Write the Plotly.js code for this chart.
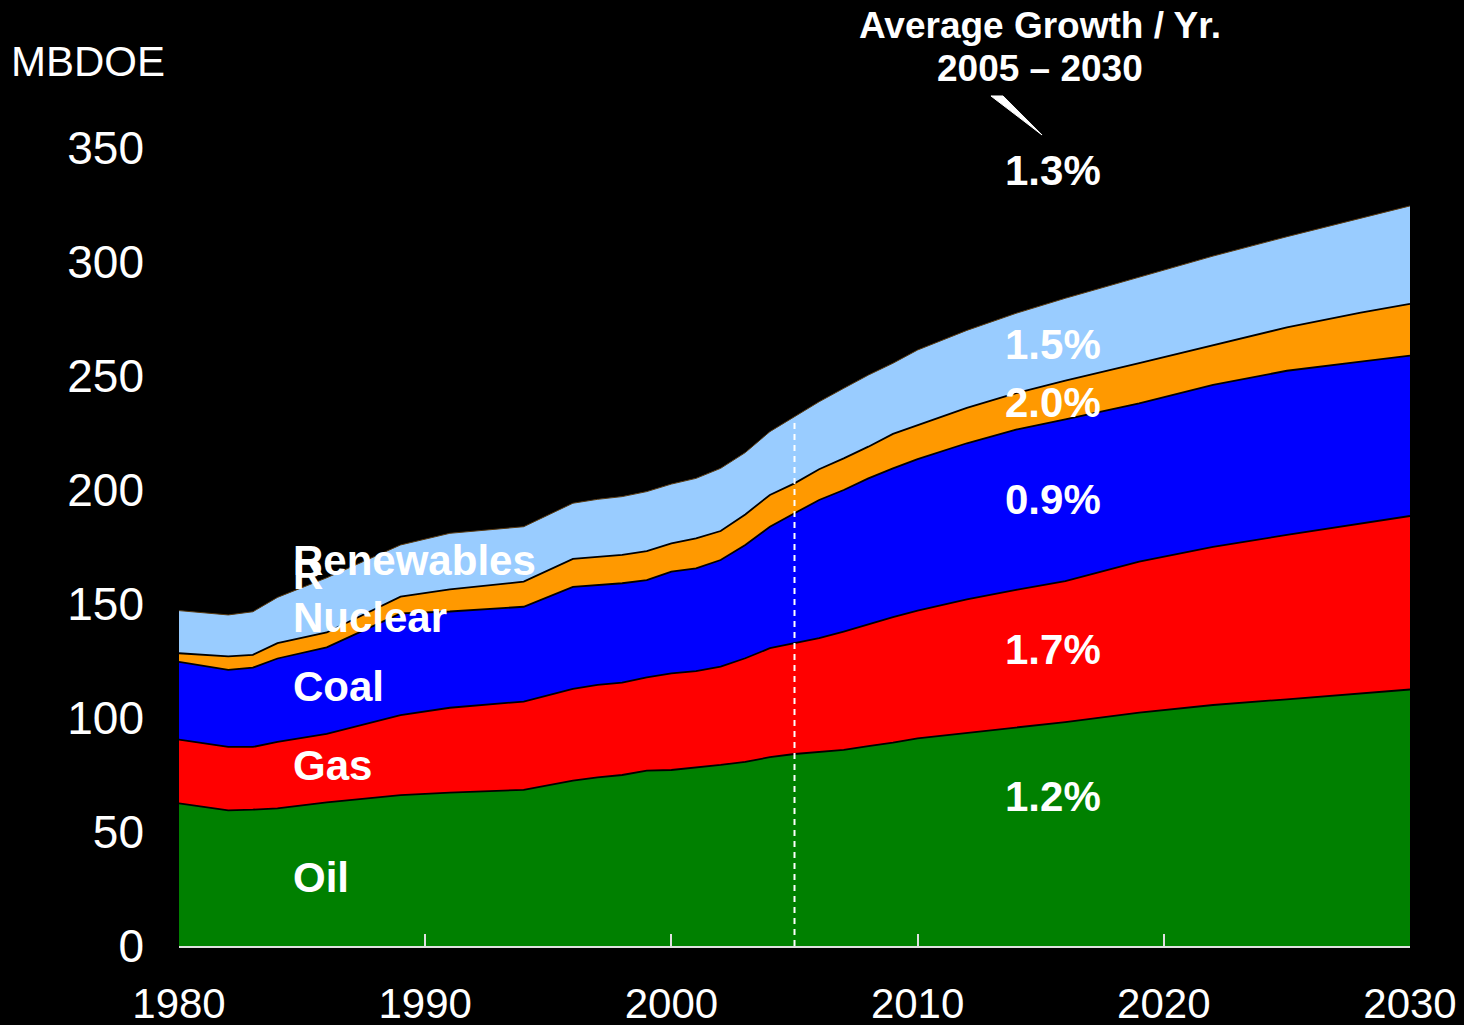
<!DOCTYPE html>
<html>
<head>
<meta charset="utf-8">
<script src="https://cdn.plot.ly/plotly-3.0.1.min.js"></script>
<style>
  html, body { margin: 0; padding: 0; background: #000; }
  #chart { width: 1464px; height: 1025px; }
</style>
</head>
<body>
<div id="chart"></div>
<script>
// Years (history then projection)
const years = [1980, 1982, 1983, 1984, 1986, 1989, 1991, 1994, 1996, 1997, 1998, 1999, 2000,
  2001, 2002, 2003, 2004, 2005, 2006, 2007, 2008, 2009, 2010, 2012, 2014, 2016, 2019, 2022,
  2025, 2028, 2030];

// Energy demand by fuel, MBDOE (each layer's own thickness)
const oil = [62.6, 59.5, 59.8, 60.4, 63.0, 66.2, 67.3, 68.5, 72.5, 74.0, 75.0, 76.9, 77.2,
  78.2, 79.4, 80.8, 82.8, 84.2, 85.0, 86.0, 87.7, 89.2, 91.1, 93.5, 96.0, 98.2, 102.4, 105.7,
  108.2, 110.6, 112.5];
const gas = [27.9, 27.8, 27.5, 29.1, 30.0, 35.1, 37.2, 38.7, 40.3, 40.5, 40.5, 40.9, 42.4,
  42.4, 43.1, 45.4, 47.8, 48.6, 50.0, 51.9, 53.5, 55.0, 56.0, 58.5, 60.2, 61.8, 66.2, 69.4,
  72.1, 74.6, 76.1];
const coal = [34.1, 33.8, 34.8, 36.6, 38.0, 44.6, 42.2, 41.6, 44.7, 43.8, 43.6, 42.7, 44.6,
  45.0, 46.8, 49.7, 53.3, 57.0, 60.6, 62.1, 63.9, 65.3, 66.4, 68.5, 70.3, 71.0, 69.4, 71.0,
  72.0, 71.1, 70.3];
const nuclear = [3.8, 5.9, 5.6, 6.7, 6.5, 7.3, 9.7, 11.0, 12.3, 12.5, 12.4, 12.7, 12.4,
  13.2, 12.7, 13.4, 13.9, 13.1, 13.5, 13.9, 13.9, 15.1, 15.0, 15.5, 16.0, 17.0, 17.6, 17.5,
  19.0, 21.5, 22.7];
const renewables = [18.7, 18.2, 18.9, 20.1, 24.0, 22.7, 24.6, 24.1, 24.4, 25.1, 25.6, 26.1, 26.0,
  26.3, 27.5, 27.1, 27.8, 29.3, 29.6, 30.7, 31.4, 31.0, 32.9, 34.0, 35.0, 36.1, 37.7, 39.0,
  39.8, 41.5, 43.0];

const fuelNames = ["Oil", "Gas", "Coal", "Nuclear", "Renewables"];
const growthLabels = ["1.2%", "1.7%", "0.9%", "2.0%", "1.5%"];
const totalGrowth = "1.3%";
const xTicks = [1980, 1990, 2000, 2010, 2020, 2030];
const yTicks = [0, 50, 100, 150, 200, 250, 300, 350];
const splitYear = 2005;

const seriesValues = [oil, gas, coal, nuclear, renewables];
const fills = ["#008000", "#FF0000", "#0000FF", "#FF9900", "#99CCFF"];
const lineColors = ["#000000", "#000000", "#000000", "#000000", "#5a3a10"];
const lineWidths = [1.8, 1.8, 1.8, 1.8, 1];

const traces = seriesValues.map((vals, i) => ({
  type: "scatter",
  mode: "lines",
  name: fuelNames[i],
  x: years,
  y: vals,
  stackgroup: "one",
  fillcolor: fills[i],
  line: { color: lineColors[i], width: lineWidths[i], shape: "linear" },
  hoverinfo: "skip"
}));

const total2005 = years.indexOf(splitYear) >= 0
  ? seriesValues.reduce((s, arr) => s + arr[years.indexOf(splitYear)], 0) : 230;

const FONT = "Liberation Sans, Arial, sans-serif";

// label positions (data coords)
const fuelLabelY = [30, 79, 114, 144, 169];
const growthY = [65.5, 130, 196, 238.5, 264];

const annotations = [];
// ghost "R" partly hidden behind the Renewables label
annotations.push({ x: 1984.55, y: 163, xref: "x", yref: "y", text: "<b>R</b>", showarrow: false,
  xanchor: "left", yanchor: "middle", font: { family: FONT, size: 42, color: "#ffffff" } });
fuelNames.forEach((n, i) => {
  annotations.push({ x: 1984.55, y: fuelLabelY[i], xref: "x", yref: "y", text: "<b>" + n + "</b>",
    showarrow: false, xanchor: "left", yanchor: "middle",
    font: { family: FONT, size: 42, color: "#ffffff" } });
});
growthLabels.forEach((g, i) => {
  annotations.push({ x: 2015.5, y: growthY[i], xref: "x", yref: "y", text: "<b>" + g + "</b>",
    showarrow: false, xanchor: "center", yanchor: "middle",
    font: { family: FONT, size: 42, color: "#ffffff" } });
});
annotations.push({ x: 2015.5, y: 340, xref: "x", yref: "y", text: "<b>" + totalGrowth + "</b>",
  showarrow: false, xanchor: "center", yanchor: "middle",
  font: { family: FONT, size: 42, color: "#ffffff" } });
annotations.push({ x: 0.6994, y: 1.154, xref: "paper", yref: "paper", text: "<b>Average Growth / Yr.</b>",
  showarrow: false, xanchor: "center", yanchor: "middle",
  font: { family: FONT, size: 37, color: "#ffffff" } });
annotations.push({ x: 0.6994, y: 1.100, xref: "paper", yref: "paper", text: "<b>2005 – 2030</b>",
  showarrow: false, xanchor: "center", yanchor: "middle",
  font: { family: FONT, size: 37, color: "#ffffff" } });
annotations.push({ x: -0.138, y: 1.1078, xref: "paper", yref: "paper", text: "MBDOE",
  showarrow: false, xanchor: "left", yanchor: "middle",
  font: { family: FONT, size: 42, color: "#ffffff" } });

const shapes = [
  { type: "line", xref: "x", yref: "y", x0: splitYear, x1: splitYear, y0: 0, y1: total2005 - 2,
    line: { color: "#ffffff", width: 2, dash: "6px,5px" }, layer: "above" },
  { type: "path", xref: "paper", yref: "paper",
    path: "M 0.6596 1.0652 L 0.6694 1.0652 L 0.7011 1.0163 Z",
    fillcolor: "#ffffff", line: { color: "#ffffff", width: 1 } }
];

const layout = {
  width: 1464,
  height: 1025,
  paper_bgcolor: "#000000",
  plot_bgcolor: "#000000",
  margin: { l: 179, r: 54, t: 148, b: 79, pad: 0 },
  showlegend: false,
  font: { family: FONT, color: "#ffffff" },
  xaxis: {
    range: [1980, 2030],
    tickmode: "array",
    tickvals: xTicks,
    ticktext: xTicks.map(String),
    ticks: "inside",
    ticklen: 12,
    tickwidth: 2,
    tickcolor: "#e0e0e0",
    showline: true,
    linecolor: "#e0e0e0",
    linewidth: 2,
    showgrid: false,
    zeroline: false,
    ticklabelstandoff: 20,
    tickfont: { family: FONT, size: 42, color: "#ffffff" },
    fixedrange: true
  },
  yaxis: {
    range: [0, 350],
    tickmode: "array",
    tickvals: yTicks,
    ticktext: yTicks.map(String),
    ticks: "",
    showline: false,
    showgrid: false,
    zeroline: false,
    ticklabelstandoff: 34,
    tickfont: { family: FONT, size: 46, color: "#ffffff" },
    fixedrange: true
  },
  annotations: annotations,
  shapes: shapes
};

Plotly.newPlot("chart", traces, layout, { displayModeBar: false, staticPlot: true });
</script>
</body>
</html>
